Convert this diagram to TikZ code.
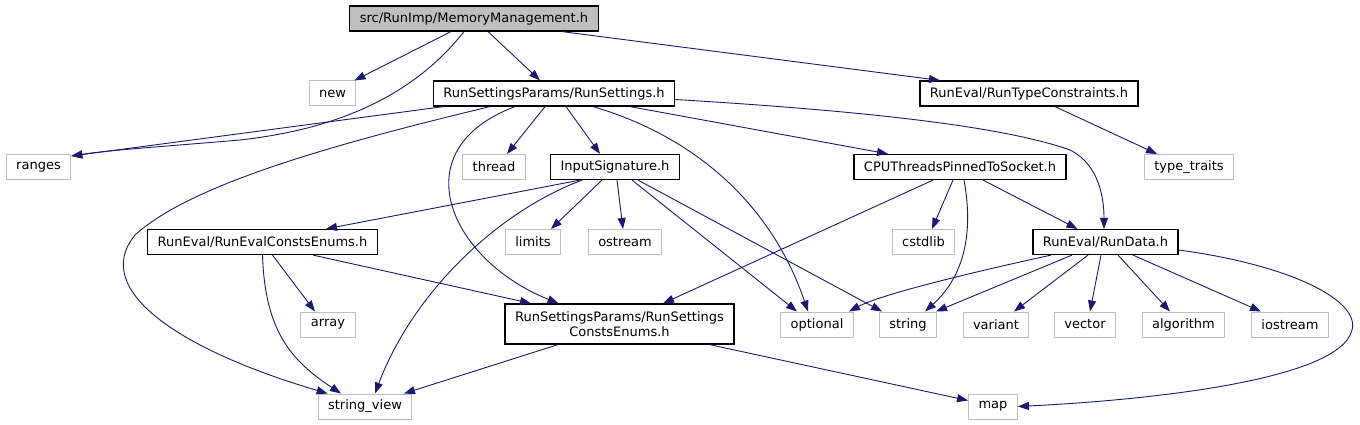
\documentclass[tikz,border=0pt]{standalone}
\usepackage{fontspec}
\setmainfont{DejaVu Sans}
\usetikzlibrary{arrows.meta, calc}
\definecolor{edgeblue}{HTML}{191970}
\definecolor{boxgray}{HTML}{BFBFBF}
\tikzset{
  hdr/.style={draw=black, fill=white, line width=1.2pt, minimum height=25pt, inner xsep=10pt, inner ysep=2pt, font=\fontsize{13}{15}\selectfont},
  sys/.style={hdr, draw=boxgray, line width=1pt},
  root/.style={hdr, fill=boxgray},
  dep/.style={-{Triangle[length=11pt, width=8pt]}, draw=edgeblue, line width=0.9pt},
}

\begin{document}
\begin{tikzpicture}[x=1pt, y=-1pt]
    \useasboundingbox (0,0) rectangle (1360,425);
    % headers
    \node[root] (mm) at (474,18.5) {src/RunImp/MemoryManagement.h};
    \node[sys] (new) at (332.5,93.5) {new};
    \node[hdr] (rs) at (554,93.5) {RunSettingsParams/RunSettings.h};
    \node[hdr] (rtc) at (1029,93.5) {RunEval/RunTypeConstraints.h};
    \node[sys] (ranges) at (38.5,167) {ranges};
    \node[sys] (thread) at (494,167) {thread};
    \node[hdr] (is) at (615,167) {InputSignature.h};
    \node[hdr] (cpu) at (960,167) {CPUThreadsPinnedToSocket.h};
    \node[sys] (tt) at (1189,167) {type\_traits};
    \node[hdr] (rec) at (262.5,242) {RunEval/RunEvalConstsEnums.h};
    \node[sys] (limits) at (533,242) {limits};
    \node[sys] (ostream) at (625,242) {ostream};
    \node[sys] (cstdlib) at (923.5,242) {cstdlib};
    \node[hdr] (rd) at (1105.5,242) {RunEval/RunData.h};
    \node[sys] (array) at (328,324.5) {array};
    \node[hdr, minimum height=40pt, align=center] (rsc) at (619.5,324) {RunSettingsParams/RunSettings\\ConstsEnums.h};
    \node[sys] (optional) at (817,324.5) {optional};
    \node[sys] (string) at (908,324.5) {string};
    \node[sys] (variant) at (996,324.5) {variant};
    \node[sys] (vector) at (1085,324.5) {vector};
    \node[sys] (algorithm) at (1183.5,324.5) {algorithm};
    \node[sys] (iostream) at (1290,324.5) {iostream};
    \node[sys] (sv) at (365,406.5) {string\_view};
    \node[sys] (map) at (993,406.5) {map};

    % includes
    \draw[dep] ([xshift=-23]mm.south) -- ([xshift=-2]new.north east);
    \draw[dep] ([xshift=-10]mm.south) .. controls (410,100) and (330,130) .. (240,140) .. controls (170,146) and (110,150) .. ([yshift=-2]ranges.north east);
    \draw[dep] ([xshift=14]mm.south) -- ([xshift=-14]rs.north);
    \draw[dep] ([xshift=88]mm.south) -- ([xshift=-89]rtc.north);

    \draw[dep] ([xshift=11]rs.south west) -- ([yshift=-2]ranges.north east);
    \draw[dep] ([xshift=-64]rs.south) .. controls (330,145) and (190,185) .. (135,235) .. controls (90,290) and (180,350) .. ([xshift=10]sv.north west);
    \draw[dep] ([xshift=-39]rs.south) .. controls (400,150) and (450,260) .. ([xshift=-61]rsc.north);
    \draw[dep] ([xshift=-9]rs.south) -- ([xshift=13]thread.north);
    \draw[dep] ([xshift=12]rs.south) -- ([xshift=-15]is.north);
    \draw[dep] ([xshift=39]rs.south) .. controls (690,135) and (770,200) .. ([xshift=-9]optional.north);
    \draw[dep] ([xshift=76]rs.south) -- ([xshift=-72]cpu.north);
    \draw[dep] ([yshift=-6]rs.east) .. controls (850,110) and (1000,125) .. (1070,150) .. controls (1100,165) and (1104,200) .. ([xshift=-1.5]rd.north);

    \draw[dep] ([xshift=-35]is.south) -- ([xshift=63.5]rec.north);
    \draw[dep] ([xshift=-33]is.south) .. controls (490,215) and (410,300) .. ([xshift=10]sv.north);
    \draw[dep] ([xshift=-13]is.south) -- ([xshift=18]limits.north);
    \draw[dep] ([xshift=2]is.south) -- ([xshift=-2]ostream.north);
    \draw[dep] ([xshift=17]is.south) -- ([xshift=-20]optional.north);
    \draw[dep] ([xshift=23]is.south) -- ([xshift=-26]string.north);

    \draw[dep] ([xshift=-27]cpu.south) -- ([xshift=43.5]rsc.north);
    \draw[dep] ([xshift=-7]cpu.south) -- ([xshift=8.5]cstdlib.north);
    \draw[dep] ([xshift=4]cpu.south) .. controls (975,240) and (960,280) .. ([xshift=17]string.north);
    \draw[dep] ([xshift=23]cpu.south) -- ([xshift=-28]rd.north);

    \draw[dep] ([xshift=26]rtc.south) -- ([xshift=-32]tt.north);

    \draw[dep] ([xshift=10]rec.south) -- ([xshift=-13]array.north);
    \draw[dep] (rec.south) .. controls (265,330) and (290,360) .. ([xshift=-24]sv.north);
    \draw[dep] ([xshift=50.5]rec.south) -- ([xshift=-88.5]rsc.north);

    \draw[dep] ([xshift=-61.5]rsc.south) -- ([xshift=39]sv.north);
    \draw[dep] ([xshift=90]rsc.south) -- ([yshift=6]map.west);

    \draw[dep] ([xshift=-54.5]rd.south) .. controls (960,275) and (880,295) .. ([xshift=32]optional.north);
    \draw[dep] ([xshift=-33.5]rd.south) -- ([xshift=28]string.north);
    \draw[dep] ([xshift=-17.5]rd.south) -- ([xshift=18]variant.north);
    \draw[dep] ([xshift=-4.5]rd.south) -- ([xshift=5]vector.north);
    \draw[dep] ([xshift=12.5]rd.south) -- ([xshift=-13.5]algorithm.north);
    \draw[dep] ([xshift=27.5]rd.south) -- ([xshift=-29]iostream.north);
    \draw[dep] ([yshift=-8]rd.east) .. controls (1290,265) and (1360,300) .. (1352,330) .. controls (1340,380) and (1150,400) .. (map.east);
\end{tikzpicture}
\end{document}
